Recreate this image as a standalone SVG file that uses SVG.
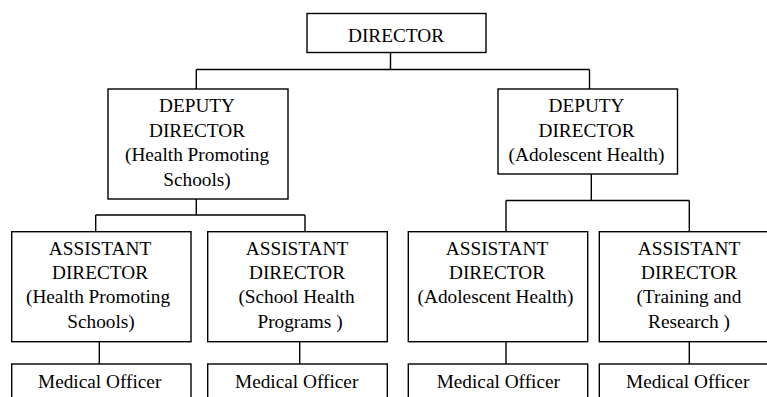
<svg xmlns="http://www.w3.org/2000/svg" width="767" height="397" viewBox="0 0 767 397">
  <style>
    .box { fill: #ffffff; stroke: #000000; stroke-width: 1.4; }
    .link { fill: none; stroke: #000000; stroke-width: 1.4; }
  </style>
  <rect width="767" height="397" fill="#ffffff"/>

  <!-- Connectors -->
  <g id="connectors">
    <path class="link" d="M390.5,52.5 V69.5 M196.3,69.5 H589.5 M196.3,69.5 V89 M589.5,69.5 V89"/>
    <path class="link" d="M196.3,199 V215 M95.7,215 H305 M95.7,215 V231.7 M305,215 V231.7"/>
    <path class="link" d="M591.3,174 V200.5 M506,200.5 H689.3 M506,200.5 V231.7 M689.3,200.5 V231.7"/>
    <path class="link" d="M99.3,341.7 V364 M299.7,341.7 V364 M506,341.7 V364 M689.3,341.7 V364"/>
  </g>

  <g font-family="'Liberation Serif', 'Times New Roman', Times, serif" font-size="19.3" fill="#000000" text-anchor="middle">
  <!-- Top level -->
  <g id="director">
    <rect class="box" x="307" y="13.5" width="179" height="39"/>
    <text x="396" y="42.3">DIRECTOR</text>
  </g>

  <!-- Deputy directors -->
  <g id="deputy-hps">
    <rect class="box" x="108" y="89" width="180" height="110"/>
    <text x="197" y="112.3">DEPUTY</text>
    <text x="197" y="136.7">DIRECTOR</text>
    <text x="197" y="161.3">(Health Promoting</text>
    <text x="197" y="186">Schools)</text>
  </g>
  <g id="deputy-ah">
    <rect class="box" x="498" y="89" width="179.5" height="85"/>
    <text x="586.5" y="112.3">DEPUTY</text>
    <text x="586.5" y="136.7">DIRECTOR</text>
    <text x="586.5" y="161.3">(Adolescent Health)</text>
  </g>

  <!-- Assistant directors -->
  <g id="assistant-hps">
    <rect class="box" x="11.7" y="231.7" width="179.3" height="110"/>
    <text x="100" y="255">ASSISTANT</text>
    <text x="100" y="279">DIRECTOR</text>
    <text x="98" y="303.3">(Health Promoting</text>
    <text x="101" y="328.3">Schools)</text>
  </g>
  <g id="assistant-shp">
    <rect class="box" x="207.7" y="231.7" width="179.6" height="110"/>
    <text x="297" y="255">ASSISTANT</text>
    <text x="297" y="279">DIRECTOR</text>
    <text x="296.5" y="303.3">(School Health</text>
    <text x="300" y="328.3">Programs )</text>
  </g>
  <g id="assistant-ah">
    <rect class="box" x="408.3" y="231.7" width="179.4" height="110"/>
    <text x="497" y="255">ASSISTANT</text>
    <text x="497" y="279">DIRECTOR</text>
    <text x="495.5" y="303.3">(Adolescent Health)</text>
  </g>
  <g id="assistant-tr">
    <rect class="box" x="599.3" y="231.7" width="180" height="110"/>
    <text x="689" y="255">ASSISTANT</text>
    <text x="689" y="279">DIRECTOR</text>
    <text x="689" y="303.3">(Training and</text>
    <text x="689" y="328.3">Research )</text>
  </g>

  <!-- Medical officers -->
  <g id="mo-1">
    <rect class="box" x="11.7" y="364" width="179.3" height="50"/>
    <text x="99.7" y="388">Medical Officer</text>
  </g>
  <g id="mo-2">
    <rect class="box" x="207.7" y="364" width="179.6" height="50"/>
    <text x="296.7" y="388">Medical Officer</text>
  </g>
  <g id="mo-3">
    <rect class="box" x="408.3" y="364" width="179.4" height="50"/>
    <text x="498.3" y="388">Medical Officer</text>
  </g>
  <g id="mo-4">
    <rect class="box" x="599.3" y="364" width="180" height="50"/>
    <text x="687.7" y="388">Medical Officer</text>
  </g>
  </g>
</svg>
